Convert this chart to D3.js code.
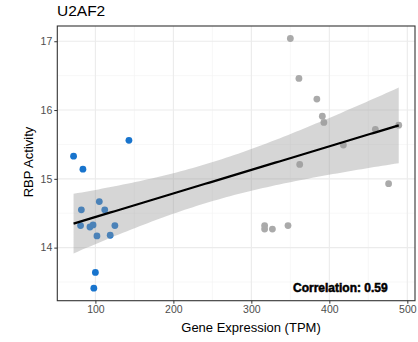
<!DOCTYPE html>
<html>
<head>
<meta charset="utf-8">
<script src="https://cdn.jsdelivr.net/npm/d3@7"></script>
<style>
  body { margin: 0; background: #fff; }
  text { font-family: "Liberation Sans", Arial, sans-serif; }
</style>
</head>
<body>
<script>
// low expression samples (blue)
var blueX = [72, 84, 143, 82, 105, 112, 81, 93, 97, 102, 119, 125, 100, 98];
var blueY = [15.33, 15.14, 15.56, 14.55, 14.67, 14.55, 14.32, 14.30, 14.33, 14.17, 14.18, 14.32, 13.64, 13.41];
// high expression samples (grey)
var greyX = [350, 361, 384, 391, 393, 418, 459, 489, 362, 476, 317, 317, 327, 347];
var greyY = [17.04, 16.46, 16.16, 15.91, 15.82, 15.49, 15.72, 15.78, 15.21, 14.93, 14.32, 14.27, 14.27, 14.32];

var xTicks = [100, 200, 300, 400, 500];
var yTicks = [14, 15, 16, 17];
var title = "U2AF2";
var corrLabel = "Correlation: 0.59";

var width = 418, height = 342;
var margin = {left: 57.3, top: 26, right: 3, bottom: 41.3};

var svg = d3.select("body").append("svg")
  .attr("width", width)
  .attr("height", height);

var allX = blueX.concat(greyX);
var allY = blueY.concat(greyY);

// ggplot style 5% expansion
var xr = d3.extent(allX), yr = d3.extent(allY);
var xpad = (xr[1] - xr[0]) * 0.05, ypad = (yr[1] - yr[0]) * 0.05;

var xScale = d3.scaleLinear()
  .domain([xr[0] - xpad, xr[1] + xpad])
  .range([margin.left, width - margin.right]);
var yScale = d3.scaleLinear()
  .domain([yr[0] - ypad, yr[1] + ypad])
  .range([height - margin.bottom, margin.top]);

var x0 = margin.left, x1 = width - margin.right;
var y0 = margin.top, y1 = height - margin.bottom;

// minor grid
var xMinor = xTicks.map(function(d){ return d - 50; }).concat([550]).filter(function(d){
  return d > xScale.domain()[0] && d < xScale.domain()[1];
});
var yMinor = [13.5, 14.5, 15.5, 16.5];
svg.selectAll(".xminor").data(xMinor).enter().append("line")
  .attr("x1", function(d){ return xScale(d); }).attr("x2", function(d){ return xScale(d); })
  .attr("y1", y0).attr("y2", y1)
  .attr("stroke", "#f2f2f2").attr("stroke-width", 0.6);
svg.selectAll(".yminor").data(yMinor).enter().append("line")
  .attr("y1", function(d){ return yScale(d); }).attr("y2", function(d){ return yScale(d); })
  .attr("x1", x0).attr("x2", x1)
  .attr("stroke", "#f2f2f2").attr("stroke-width", 0.6);

// major grid
svg.selectAll(".xmajor").data(xTicks).enter().append("line")
  .attr("x1", function(d){ return xScale(d); }).attr("x2", function(d){ return xScale(d); })
  .attr("y1", y0).attr("y2", y1)
  .attr("stroke", "#ebebeb").attr("stroke-width", 1.1);
svg.selectAll(".ymajor").data(yTicks).enter().append("line")
  .attr("y1", function(d){ return yScale(d); }).attr("y2", function(d){ return yScale(d); })
  .attr("x1", x0).attr("x2", x1)
  .attr("stroke", "#ebebeb").attr("stroke-width", 1.1);

// points
svg.selectAll(".blue").data(blueX).enter().append("circle")
  .attr("cx", function(d){ return xScale(d); })
  .attr("cy", function(d, i){ return yScale(blueY[i]); })
  .attr("r", 3.4)
  .attr("fill", "#1874cd");
svg.selectAll(".grey").data(greyX).enter().append("circle")
  .attr("cx", function(d){ return xScale(d); })
  .attr("cy", function(d, i){ return yScale(greyY[i]); })
  .attr("r", 3.4)
  .attr("fill", "#aaaaaa");

// linear fit + 95% confidence band (like geom_smooth(method = "lm"))
var n = allX.length;
var mx = d3.mean(allX), my = d3.mean(allY);
var sxx = 0, sxy = 0;
allX.forEach(function(x, i){
  sxx += (x - mx) * (x - mx);
  sxy += (x - mx) * (allY[i] - my);
});
var slope = sxy / sxx, intercept = my - slope * mx;
var sse = 0;
allX.forEach(function(x, i){
  var r = allY[i] - (intercept + slope * x);
  sse += r * r;
});
var s = Math.sqrt(sse / (n - 2));
var tval = 2.056; // t(0.975, 26)

var fitX = d3.range(80).map(function(i){ return xr[0] + (xr[1] - xr[0]) * i / 79; });
var fit = fitX.map(function(x){
  var yh = intercept + slope * x;
  var se = s * Math.sqrt(1 / n + (x - mx) * (x - mx) / sxx);
  return {x: x, y: yh, lo: yh - tval * se, hi: yh + tval * se};
});

svg.append("path")
  .datum(fit)
  .attr("d", d3.area()
    .x(function(d){ return xScale(d.x); })
    .y0(function(d){ return yScale(d.lo); })
    .y1(function(d){ return yScale(d.hi); }))
  .attr("fill", "#999999")
  .attr("fill-opacity", 0.4);

svg.append("path")
  .datum(fit)
  .attr("d", d3.line()
    .x(function(d){ return xScale(d.x); })
    .y(function(d){ return yScale(d.y); }))
  .attr("fill", "none")
  .attr("stroke", "#000")
  .attr("stroke-width", 2.2);

// correlation label
svg.append("text")
  .attr("x", 293).attr("y", 292)
  .attr("font-size", "12px")
  .attr("font-weight", "bold")
  .attr("fill", "#000")
  .attr("stroke", "#000")
  .attr("stroke-width", 0.5)
  .text(corrLabel);

// panel border
svg.append("rect")
  .attr("x", x0).attr("y", y0)
  .attr("width", x1 - x0).attr("height", y1 - y0)
  .attr("fill", "none")
  .attr("stroke", "#333333")
  .attr("stroke-width", 1.1);

// axes
var xAxis = svg.append("g")
  .attr("transform", "translate(0," + y1 + ")")
  .call(d3.axisBottom(xScale).tickValues(xTicks).tickFormat(d3.format("d")).tickSize(3).tickPadding(2));
var yAxis = svg.append("g")
  .attr("transform", "translate(" + x0 + ",0)")
  .call(d3.axisLeft(yScale).tickValues(yTicks).tickFormat(d3.format("d")).tickSize(3).tickPadding(2));

[xAxis, yAxis].forEach(function(g){
  g.select(".domain").remove();
  g.selectAll(".tick line").attr("stroke", "#333333").attr("stroke-width", 1);
  g.selectAll(".tick text")
    .attr("fill", "#4d4d4d")
    .style("font-size", "10.5px")
    .style("font-family", "Liberation Sans, Arial, sans-serif");
});

// titles
svg.append("text")
  .attr("x", 57).attr("y", 16)
  .attr("font-size", "15.5px")
  .attr("fill", "#000")
  .text(title);

svg.append("text")
  .attr("x", 251).attr("y", 332)
  .attr("text-anchor", "middle")
  .attr("font-size", "13px")
  .attr("fill", "#000")
  .text("Gene Expression (TPM)");

svg.append("text")
  .attr("transform", "translate(33,162) rotate(-90)")
  .attr("text-anchor", "middle")
  .attr("font-size", "13px")
  .attr("fill", "#000")
  .text("RBP Activity");
</script>
</body>
</html>
